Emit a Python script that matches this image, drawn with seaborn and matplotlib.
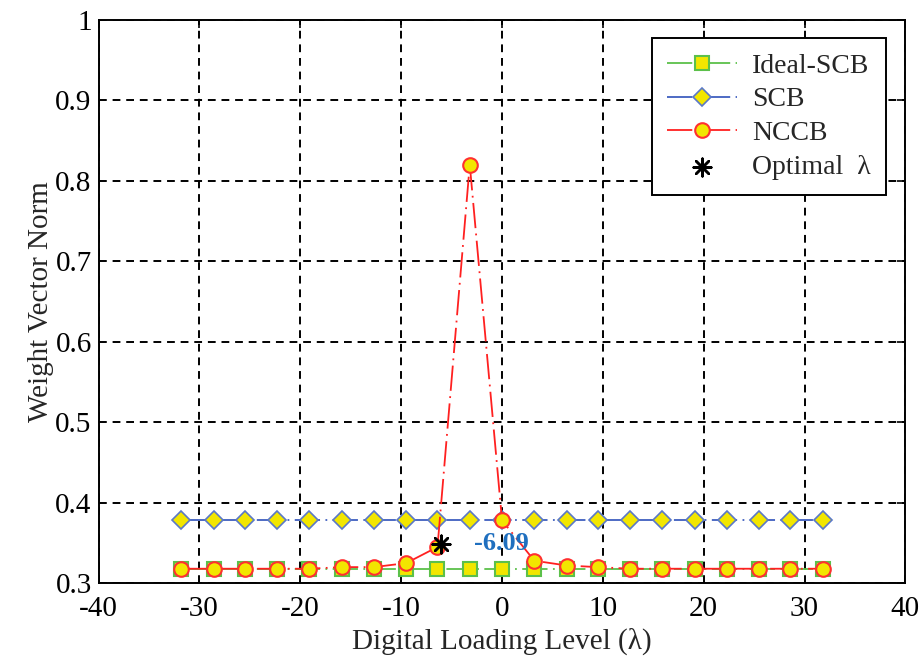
import matplotlib
matplotlib.use("Agg")
import matplotlib.pyplot as plt
import pandas as pd
import seaborn as sns

# loading levels (lambda) where each beamformer was evaluated
lam = [-31.8, -28.6, -25.5, -22.3, -19.1, -15.9, -12.7, -9.5, -6.4, -3.2, 0.0,
       3.2, 6.4, 9.5, 12.7, 15.9, 19.1, 22.3, 25.5, 28.6, 31.8]
ideal_scb = [0.318, 0.318, 0.318, 0.318, 0.318, 0.318, 0.318, 0.318, 0.318, 0.318, 0.318,
             0.318, 0.318, 0.318, 0.318, 0.318, 0.318, 0.318, 0.318, 0.318, 0.318]
scb = [0.378, 0.378, 0.378, 0.378, 0.378, 0.378, 0.378, 0.378, 0.378, 0.378, 0.378,
       0.378, 0.378, 0.378, 0.378, 0.378, 0.378, 0.378, 0.378, 0.378, 0.378]
nccb = [0.318, 0.318, 0.318, 0.318, 0.318, 0.320, 0.320, 0.325, 0.345, 0.820, 0.378,
        0.328, 0.322, 0.320, 0.318, 0.318, 0.318, 0.318, 0.318, 0.318, 0.318]
opt_lam = [-6.09]
opt_norm = [0.349]

df = pd.DataFrame({"lam": lam, "Ideal-SCB": ideal_scb, "SCB": scb, "NCCB": nccb})

sns.set_style("white")
plt.rcParams["font.family"] = ["Liberation Serif", "DejaVu Serif"]
plt.rcParams["axes.unicode_minus"] = False

fig, ax = plt.subplots(figsize=(9.22, 6.59), dpi=100)
fig.subplots_adjust(left=0.107, right=0.982, top=0.97, bottom=0.115)

yellow = "#F2E600"
dashdot = (0, (14, 3, 1, 3))

sns.lineplot(data=df, x="lam", y="Ideal-SCB", ax=ax, color="#5CC04A", lw=1.3,
             linestyle=dashdot, marker="s", markersize=10, markerfacecolor=yellow,
             markeredgecolor="#5CC04A", markeredgewidth=1.5, label="Ideal-SCB")
sns.lineplot(data=df, x="lam", y="SCB", ax=ax, color="#3F5FBF", lw=1.3,
             linestyle=dashdot, marker="D", markersize=9, markerfacecolor=yellow,
             markeredgecolor="#5A78C8", markeredgewidth=1.2, label="SCB")
sns.lineplot(data=df, x="lam", y="NCCB", ax=ax, color="#FF2020", lw=1.3,
             linestyle=dashdot, marker="o", markersize=10.5, markerfacecolor=yellow,
             markeredgecolor="#FF3030", markeredgewidth=1.5, label="NCCB")
sns.scatterplot(x=opt_lam, y=opt_norm, ax=ax, marker=(8, 2, 0), s=160,
                color="k", edgecolor="k", linewidth=1.8, label="Optimal  λ", zorder=5)

ax.text(-2.8, 0.349, "-6.09", color="#1F6FBF", fontsize=19, fontweight="bold",
        va="center", ha="left")

ax.set_xlim(-40, 40)
ax.set_ylim(0.3, 1.0)
ax.set_xticks([-40, -30, -20, -10, 0, 10, 20, 30, 40])
ax.set_yticks([0.3, 0.4, 0.5, 0.6, 0.7, 0.8, 0.9, 1.0])
ax.set_yticklabels(["0.3", "0.4", "0.5", "0.6", "0.7", "0.8", "0.9", "1"])
ax.grid(True, color="k", linestyle=(0, (4, 3)), linewidth=1.4)
ax.tick_params(direction="in", length=6, width=1.2, top=True, right=True,
               labelsize=21, colors="k", pad=5)
ax.tick_params(axis="x", pad=9)
for sp in ax.spines.values():
    sp.set_color("k")
    sp.set_linewidth(1.4)

ax.set_xlabel("Digital Loading Level (λ)", fontsize=21, labelpad=4)
ax.set_ylabel("Weight Vector Norm", fontsize=21, labelpad=1)

leg = ax.legend(loc="upper right", bbox_to_anchor=(0.976, 0.968), borderaxespad=0,
                fontsize=20, frameon=True, fancybox=False, framealpha=1, edgecolor="k",
                handlelength=2.5, borderpad=0.55, labelspacing=0.3, handletextpad=0.55)
leg.get_frame().set_linewidth(1.4)

fig.savefig("out.png", dpi=100)
